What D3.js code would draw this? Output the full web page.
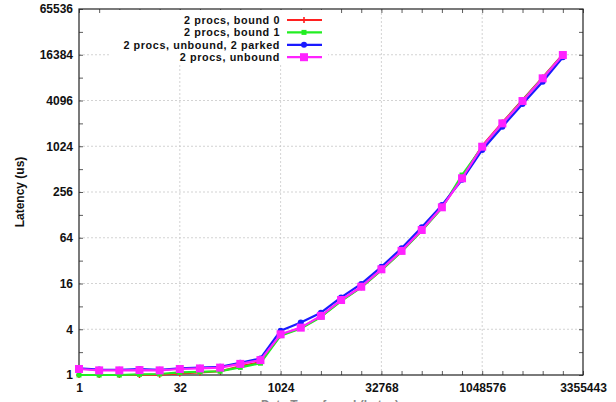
<!DOCTYPE html>
<html>
<head>
<meta charset="utf-8">
<script src="https://cdn.jsdelivr.net/npm/d3@7"></script>
<style>
  html, body { margin: 0; padding: 0; background: #fff; }
  svg { display: block; }
  text { font-family: "Liberation Sans", Arial, Helvetica, sans-serif; font-weight: bold; fill: #111; }
</style>
</head>
<body>
<script>
// Message sizes (bytes): powers of two, 1 .. 16 MiB
const sizes = d3.range(0, 25).map(k => Math.pow(2, k));

// Latency in microseconds per configuration
const bound0 = [1.0, 1.0, 1.0, 1.0, 1.01, 1.05, 1.08, 1.12, 1.3, 1.48, 3.35, 4.15, 5.9, 9.5, 14.3, 24.2, 42.5, 80, 160, 400, 1030, 2100, 4150, 8200, 16500];
const bound1 = [1.0, 1.0, 1.0, 1.02, 1.03, 1.08, 1.1, 1.12, 1.26, 1.43, 3.3, 4.1, 5.8, 9.4, 14.2, 24, 42, 79, 158, 428, 1000, 2050, 4100, 8100, 16300];
const parked = [1.22, 1.18, 1.17, 1.2, 1.17, 1.22, 1.25, 1.28, 1.45, 1.65, 3.83, 4.9, 6.6, 10.5, 15.8, 26.6, 46.5, 88, 172, 370, 915, 1850, 3690, 7230, 15200];
const unbound = [1.2, 1.15, 1.15, 1.16, 1.15, 1.2, 1.22, 1.25, 1.4, 1.57, 3.43, 4.2, 6.0, 9.7, 14.5, 24.6, 43, 81, 161, 388, 1010, 2050, 4030, 8020, 16250];

const seriesNames = ["2 procs, bound 0", "2 procs, bound 1", "2 procs, unbound, 2 parked", "2 procs, unbound"];
const seriesColors = ["#ff2020", "#22ee22", "#1a1aff", "#ff22ff"];
const seriesMarkers = ["plus", "smallSquare", "circle", "square"];

// Axis ticks
const xTickValues = [1, 32, 1024, 32768, 1048576, 33554432];
const xTickLabels = ["1", "32", "1024", "32768", "1048576", "3355443"];
const yTickValues = [1, 4, 16, 64, 256, 1024, 4096, 16384, 65536];
const yTickLabels = ["1", "4", "16", "64", "256", "1024", "4096", "16384", "65536"];
const xMinorTicks = d3.range(0, 26).map(k => Math.pow(2, k));
const yMinorTicks = d3.range(0, 17).map(k => Math.pow(2, k));

const yTitle = "Latency (us)";
const xTitle = "Data Transferred (bytes)";

const W = 616, H = 402;
const plot = { left: 79, right: 583, top: 9, bottom: 375 };

const svg = d3.select("body").append("svg").attr("width", W).attr("height", H);

const x = d3.scaleLog().base(2).domain([1, 33554432]).range([plot.left, plot.right]);
const y = d3.scaleLog().base(2).domain([1, 65536]).range([plot.bottom, plot.top]);

// Grid lines at labelled ticks
const grid = svg.append("g").attr("stroke", "#c8c8c8").attr("stroke-width", 0.8).attr("stroke-dasharray", "2,2");
xTickValues.slice(1, -1).forEach(v => {
  grid.append("line").attr("x1", x(v)).attr("x2", x(v)).attr("y1", plot.top).attr("y2", plot.bottom);
});
yTickValues.slice(1, -1).forEach(v => {
  grid.append("line").attr("x1", plot.left).attr("x2", plot.right).attr("y1", y(v)).attr("y2", y(v));
});

// Axes: inward ticks on all four sides, one per doubling
const axisBottom = d3.axisBottom(x).tickValues(xMinorTicks).tickSizeInner(-4).tickSizeOuter(0).tickFormat("");
const axisTop = d3.axisTop(x).tickValues(xMinorTicks).tickSizeInner(-4).tickSizeOuter(0).tickFormat("");
const axisLeft = d3.axisLeft(y).tickValues(yMinorTicks).tickSizeInner(-4).tickSizeOuter(0).tickFormat("");
const axisRight = d3.axisRight(y).tickValues(yMinorTicks).tickSizeInner(-4).tickSizeOuter(0).tickFormat("");

function styleAxis(g) {
  g.select(".domain").remove();
  g.selectAll(".tick line").attr("stroke", "#333").attr("stroke-width", 0.8);
}
svg.append("g").attr("transform", `translate(0,${plot.bottom})`).call(axisBottom).call(styleAxis);
svg.append("g").attr("transform", `translate(0,${plot.top})`).call(axisTop).call(styleAxis);
svg.append("g").attr("transform", `translate(${plot.left},0)`).call(axisLeft).call(styleAxis);
svg.append("g").attr("transform", `translate(${plot.right},0)`).call(axisRight).call(styleAxis);

// Tick labels
const labelAxisX = d3.axisBottom(x).tickValues(xTickValues).tickSize(0).tickPadding(8)
  .tickFormat((d, i) => xTickLabels[i]);
svg.append("g").attr("transform", `translate(0,${plot.bottom})`).call(labelAxisX)
  .call(g => g.select(".domain").remove())
  .call(g => g.selectAll("text").attr("font-size", 12).attr("font-family", null).attr("fill", "#111"));
const labelAxisY = d3.axisLeft(y).tickValues(yTickValues).tickSize(0).tickPadding(6)
  .tickFormat((d, i) => yTickLabels[i]);
svg.append("g").attr("transform", `translate(${plot.left},0)`).call(labelAxisY)
  .call(g => g.select(".domain").remove())
  .call(g => g.selectAll("text").attr("font-size", 12).attr("font-family", null).attr("fill", "#111"));

// Frame
svg.append("rect").attr("x", plot.left).attr("y", plot.top)
  .attr("width", plot.right - plot.left).attr("height", plot.bottom - plot.top)
  .attr("fill", "none").attr("stroke", "#222").attr("stroke-width", 1.2);

// Axis titles (the x title sits at the bottom edge of the canvas)
svg.append("text").attr("transform", `translate(24,${(plot.top + plot.bottom) / 2}) rotate(-90)`)
  .attr("text-anchor", "middle").attr("font-size", 12).text(yTitle);
svg.append("text").attr("x", 330).attr("y", 409).attr("text-anchor", "middle")
  .attr("font-size", 12).style("fill", "#888").text(xTitle);

// Marker drawing
function drawMarker(g, type, cx, cy, color) {
  if (type === "plus") {
    g.append("path").attr("d", `M${cx - 3},${cy}H${cx + 3}M${cx},${cy - 3}V${cy + 3}`)
      .attr("stroke", color).attr("stroke-width", 1.6);
  } else if (type === "smallSquare") {
    g.append("rect").attr("x", cx - 2.5).attr("y", cy - 2.5).attr("width", 5).attr("height", 5).attr("fill", color);
  } else if (type === "circle") {
    g.append("circle").attr("cx", cx).attr("cy", cy).attr("r", 3).attr("fill", color);
  } else {
    g.append("rect").attr("x", cx - 4).attr("y", cy - 4).attr("width", 8).attr("height", 8).attr("fill", color);
  }
}

// Series
const allSeries = [bound0, bound1, parked, unbound];
const line = d3.line().x(d => x(d[0])).y(d => y(d[1]));
const plotArea = svg.append("g");
allSeries.forEach((vals, si) => {
  const pts = sizes.map((s, i) => [s, vals[i]]);
  const g = plotArea.append("g");
  g.append("path").datum(pts).attr("d", line).attr("fill", "none")
    .attr("stroke", seriesColors[si]).attr("stroke-width", 2.2).attr("stroke-linejoin", "round");
  pts.forEach(p => drawMarker(g, seriesMarkers[si], x(p[0]), y(p[1]), seriesColors[si]));
});

// Legend with opaque background
const legend = svg.append("g");
legend.append("rect").attr("x", 110).attr("y", plot.top + 1).attr("width", 218).attr("height", 55).attr("fill", "#fff");
seriesNames.forEach((name, i) => {
  const ly = 20 + i * 12.4;
  legend.append("text").attr("x", 280).attr("y", ly + 4).attr("text-anchor", "end")
    .attr("font-size", 10.8).attr("letter-spacing", 0.6).text(name);
  legend.append("line").attr("x1", 287).attr("x2", 322).attr("y1", ly).attr("y2", ly)
    .attr("stroke", seriesColors[i]).attr("stroke-width", 2.2);
  drawMarker(legend, seriesMarkers[i], 304, ly, seriesColors[i]);
});
</script>
</body>
</html>
